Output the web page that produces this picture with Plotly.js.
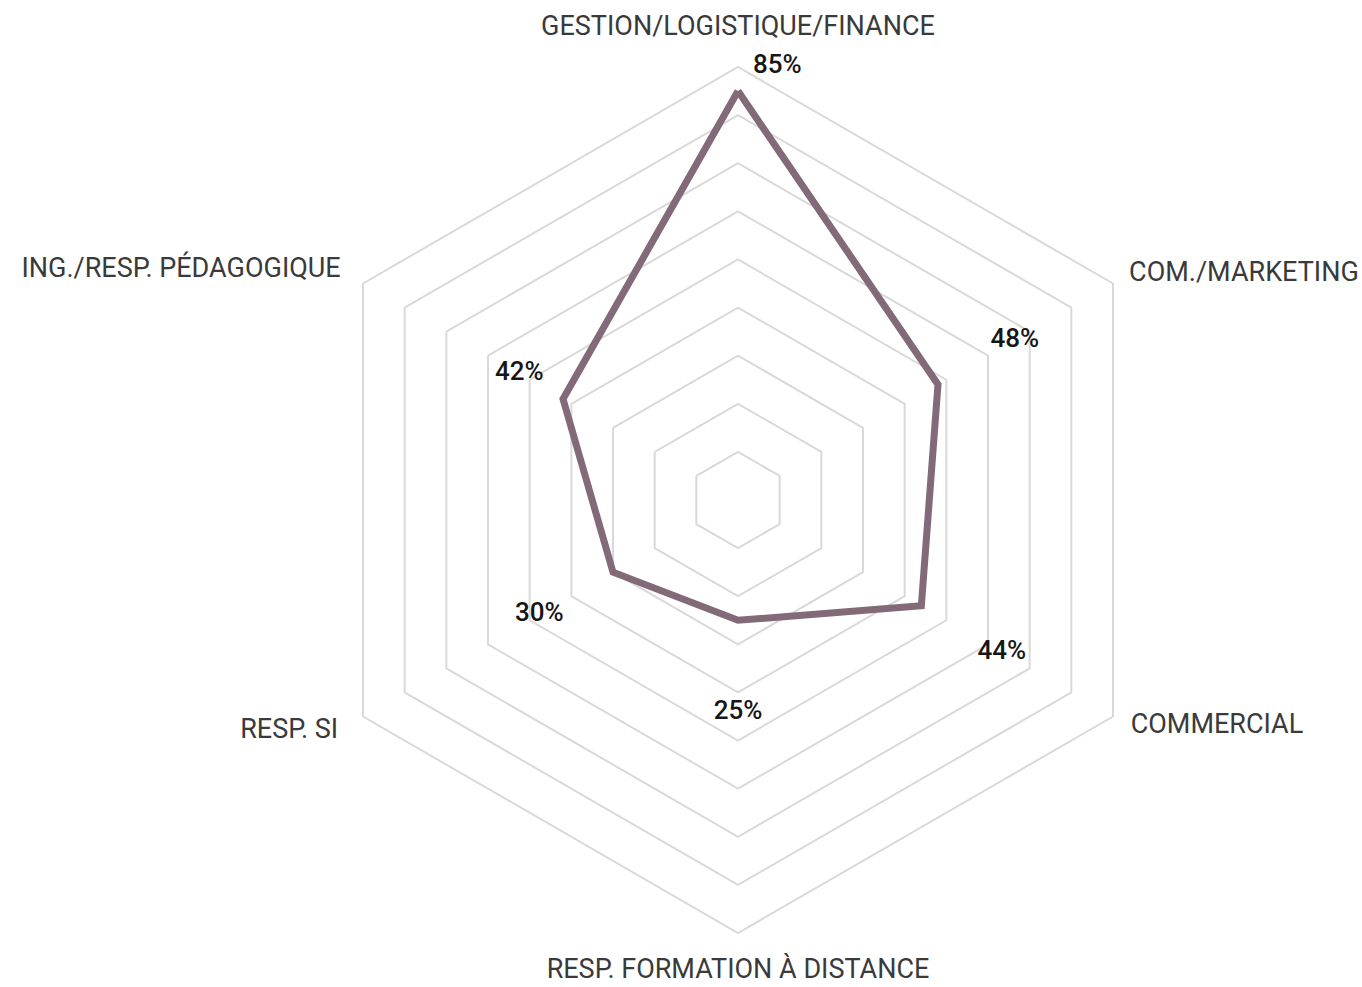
<!DOCTYPE html>
<html>
<head>
<meta charset="utf-8">
<script src="https://cdn.plot.ly/plotly-3.0.1.min.js"></script>
<style>
  html, body { margin: 0; padding: 0; background: #ffffff; }
  #chart { width: 1362px; height: 987px; }
</style>
</head>
<body>
<div id="chart"></div>
<script>
// ---- data ----
const categories = [
  'GESTION/LOGISTIQUE/FINANCE',
  'COM./MARKETING',
  'COMMERCIAL',
  'RESP. FORMATION À DISTANCE',
  'RESP. SI',
  'ING./RESP. PÉDAGOGIQUE'
];
const values = [85, 48, 44, 25, 30, 42];
const valueLabels = ['85%', '48%', '44%', '25%', '30%', '42%'];

// ---- label placement (style, not data) ----
const labelGap = [-0.63, 18.45, 19.3, 19.2, 17.7, 10.5];
const labelPos = ['top right', 'middle center', 'middle center', 'middle center', 'middle center', 'middle center'];
const labelMarker = [22.4, 22.4, 22.4, 22.4, 22.4, 22.4];

// category label ring (separate, invisible polar frame measured in pixels)
const catRadius = [472, 451.6, 453.4, 471, 461.7, 458.8];
const catPos = ['middle center', 'middle right', 'middle right', 'middle center', 'middle left', 'middle left'];

const lineColor = '#836a78';
const gridColor = '#d9d9d9';
const fontFamily = 'Roboto, "DejaVu Sans", sans-serif';

const closedTheta = categories.concat([categories[0]]);
const closedR = values.concat([values[0]]);
const catAngles = categories.map((c, i) => i * 360 / categories.length);

const traces = [
  {
    type: 'scatterpolar',
    subplot: 'polar',
    mode: 'lines',
    r: closedR,
    theta: closedTheta,
    line: { color: lineColor, width: 7, shape: 'linear' },
    hoverinfo: 'skip',
    showlegend: false
  },
  {
    type: 'scatterpolar',
    subplot: 'polar',
    mode: 'markers+text',
    r: values.map((v, i) => v + labelGap[i]),
    theta: categories,
    text: valueLabels,
    textposition: labelPos,
    textfont: { family: fontFamily, size: 26, color: '#161616', weight: 500 },
    marker: { size: labelMarker, opacity: 0 },
    cliponaxis: false,
    hoverinfo: 'skip',
    showlegend: false
  },
  {
    type: 'scatterpolar',
    subplot: 'polar2',
    mode: 'text',
    r: catRadius,
    theta: catAngles,
    text: categories,
    textposition: catPos,
    textfont: { family: fontFamily, size: 27, color: '#3a3a3a' },
    cliponaxis: false,
    hoverinfo: 'skip',
    showlegend: false
  }
];

const layout = {
  width: 1362,
  height: 987,
  margin: { l: 0, r: 0, t: 0, b: 0 },
  paper_bgcolor: '#ffffff',
  plot_bgcolor: '#ffffff',
  showlegend: false,
  font: { family: fontFamily, color: '#3a3a3a' },
  polar: {
    domain: { x: [305 / 1362, 1171 / 1362], y: [54 / 987, 920 / 987] },
    gridshape: 'linear',
    bgcolor: '#ffffff',
    radialaxis: {
      range: [0, 90],
      tick0: 0,
      dtick: 10,
      showgrid: true,
      gridcolor: gridColor,
      gridwidth: 2,
      showline: false,
      showticklabels: false,
      ticks: ''
    },
    angularaxis: {
      type: 'category',
      categoryorder: 'array',
      categoryarray: categories,
      rotation: 90,
      direction: 'clockwise',
      showgrid: false,
      showline: true,
      linecolor: gridColor,
      linewidth: 2,
      ticks: '',
      showticklabels: false
    }
  },
  polar2: {
    domain: { x: [251 / 1362, 1225 / 1362], y: [0, 974 / 987] },
    bgcolor: 'rgba(0,0,0,0)',
    radialaxis: { visible: false, range: [0, 487] },
    angularaxis: { visible: false, type: 'linear', thetaunit: 'degrees', rotation: 90, direction: 'clockwise' }
  }
};

Plotly.newPlot('chart', traces, layout, { displayModeBar: false, staticPlot: true });
</script>
</body>
</html>
